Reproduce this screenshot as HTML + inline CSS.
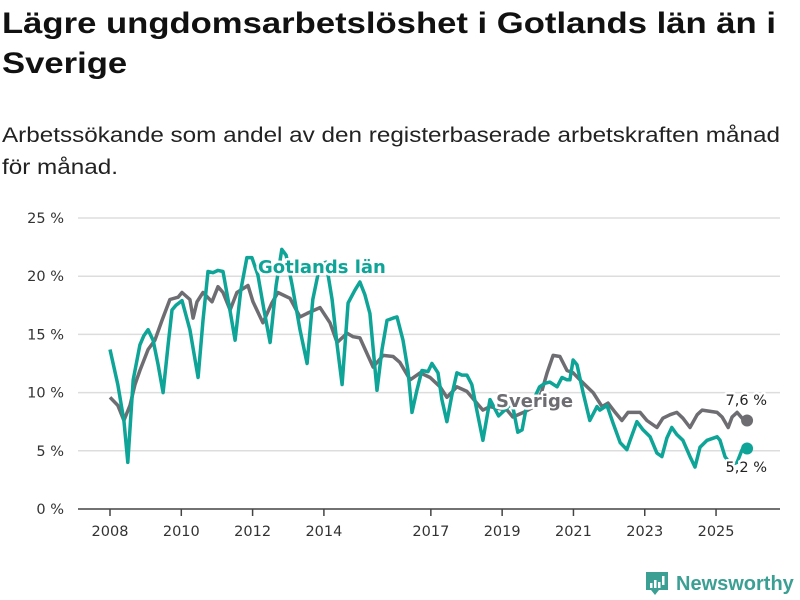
<!DOCTYPE html>
<html><head><meta charset="utf-8">
<style>
body{margin:0;background:#fff;font-family:"Liberation Sans","DejaVu Sans",sans-serif;}
#wrap{position:relative;width:800px;height:600px;overflow:hidden;}
h1{position:absolute;left:2px;top:4px;margin:0;font-size:30px;line-height:40px;font-weight:bold;color:#111;white-space:nowrap;transform-origin:0 0;transform:scaleX(1.155);}
#sub{position:absolute;left:2px;top:120px;margin:0;font-size:21px;line-height:32px;color:#222;white-space:nowrap;transform-origin:0 0;transform:scaleX(1.155);}
</style></head><body>
<div id="wrap">
<h1>Lägre ungdomsarbetslöshet i Gotlands län än i<br>Sverige</h1>
<p id="sub">Arbetssökande som andel av den registerbaserade arbetskraften månad<br>för månad.</p>
<svg id="chart" width="800" height="600" style="position:absolute;left:0;top:0"></svg>
</div>
<script>
const yTicks=[0,5,10,15,20,25];
const yTickLabels=["0 %","5 %","10 %","15 %","20 %","25 %"];
const xTicks=[2008,2010,2012,2014,2017,2019,2021,2023,2025];
const gotYears=[2008.00,2008.22,2008.39,2008.50,2008.65,2008.84,2008.95,2009.07,2009.21,2009.35,2009.49,2009.63,2009.74,2009.85,2010.02,2010.24,2010.47,2010.61,2010.75,2010.89,2011.03,2011.17,2011.34,2011.51,2011.67,2011.84,2011.98,2012.15,2012.32,2012.49,2012.66,2012.82,2012.94,2013.11,2013.33,2013.53,2013.69,2013.89,2014.06,2014.23,2014.37,2014.51,2014.68,2014.87,2015.01,2015.15,2015.29,2015.49,2015.63,2015.77,2015.94,2016.05,2016.22,2016.36,2016.47,2016.61,2016.75,2016.92,2017.03,2017.20,2017.31,2017.45,2017.59,2017.73,2017.87,2018.01,2018.15,2018.29,2018.46,2018.66,2018.90,2019.28,2019.44,2019.56,2019.70,2019.90,2020.05,2020.20,2020.34,2020.54,2020.68,2020.82,2020.90,2020.99,2021.10,2021.27,2021.46,2021.66,2021.74,2021.94,2022.11,2022.31,2022.50,2022.59,2022.78,2022.95,2023.15,2023.34,2023.48,2023.62,2023.76,2023.90,2024.07,2024.27,2024.41,2024.55,2024.75,2025.03,2025.11,2025.25,2025.42,2025.59,2025.73,2025.87];
const gotValues=[13.7,10.7,7.6,4.0,11.1,14.1,14.9,15.4,14.5,12.4,10.0,14.1,17.1,17.5,17.9,15.4,11.3,16.2,20.4,20.3,20.5,20.4,17.5,14.5,18.8,21.6,21.6,20.1,17.1,14.3,19.2,22.3,21.8,19.2,15.4,12.5,18.0,21.0,21.2,18.0,14.1,10.7,17.7,18.8,19.5,18.4,16.8,10.2,13.7,16.2,16.4,16.5,14.5,11.9,8.3,10.2,11.9,11.8,12.5,11.7,9.4,7.5,9.8,11.7,11.5,11.5,10.7,8.5,5.9,9.4,8.0,9.1,6.6,6.8,9.1,9.5,10.5,10.8,10.9,10.5,11.3,11.1,11.1,12.8,12.4,10.0,7.6,8.8,8.5,8.9,7.4,5.7,5.1,5.9,7.5,6.8,6.2,4.8,4.5,6.1,7.0,6.4,5.9,4.5,3.6,5.3,5.9,6.2,5.9,4.5,3.8,4.0,5.1,5.2];
const sveYears=[2008.00,2008.22,2008.39,2008.56,2008.70,2008.84,2009.07,2009.26,2009.46,2009.68,2009.91,2010.02,2010.24,2010.33,2010.44,2010.61,2010.86,2011.03,2011.17,2011.37,2011.56,2011.87,2012.01,2012.29,2012.54,2012.71,2013.05,2013.33,2013.53,2013.89,2014.17,2014.37,2014.65,2014.82,2015.01,2015.38,2015.66,2015.94,2016.13,2016.42,2016.70,2016.98,2017.26,2017.45,2017.73,2018.01,2018.29,2018.46,2018.66,2019.14,2019.30,2019.60,2019.90,2020.10,2020.26,2020.43,2020.62,2020.82,2020.99,2021.18,2021.38,2021.55,2021.80,2021.97,2022.17,2022.36,2022.53,2022.87,2023.06,2023.34,2023.51,2023.71,2023.90,2024.07,2024.27,2024.47,2024.61,2025.03,2025.17,2025.34,2025.45,2025.59,2025.73,2025.87];
const sveValues=[9.6,8.9,7.6,8.9,10.7,11.9,13.7,14.5,16.2,18.0,18.2,18.6,18.0,16.4,17.8,18.6,17.8,19.1,18.6,17.1,18.6,19.2,17.8,16.0,17.7,18.6,18.1,16.5,16.8,17.3,16.0,14.3,15.1,14.8,14.7,12.2,13.2,13.1,12.6,11.1,11.7,11.3,10.5,9.6,10.5,10.1,9.1,8.5,8.8,8.5,7.9,8.3,8.8,10.0,11.7,13.2,13.1,11.9,11.7,11.1,10.5,10.0,8.8,9.1,8.3,7.6,8.3,8.3,7.6,7.0,7.8,8.1,8.3,7.8,7.0,8.1,8.5,8.3,7.9,7.0,7.9,8.3,7.8,7.6];

const NS='http://www.w3.org/2000/svg';
const svg=document.getElementById('chart');
const X0=78,X1=780,Y0=509,Y25=218;
const LF='"DejaVu Sans","Liberation Sans",sans-serif';
function xs(yr){return 110+(yr-2008)*35.65;}
function ys(v){return Y0-(v/25)*(Y0-Y25);}
function mk(tag,attrs,parent){const e=document.createElementNS(NS,tag);for(const k in attrs)e.setAttribute(k,attrs[k]);(parent||svg).appendChild(e);return e;}

yTicks.forEach((t,i)=>{
  if(t>0){const g=mk('line',{x1:X0,x2:X1,y1:ys(t),y2:ys(t),stroke:'#ddd','stroke-width':1.5});
  
  }
  const l=mk('text',{x:64,y:ys(t)+5,'text-anchor':'end','font-size':14.5,fill:'#333','font-family':LF});
  l.textContent=yTickLabels[i];
  
  
});
const ax=mk('line',{x1:X0,x2:X1,y1:Y0,y2:Y0,stroke:'#444','stroke-width':1.5});


xTicks.forEach(t=>{
  const tk=mk('line',{x1:xs(t),x2:xs(t),y1:Y0,y2:Y0+7,stroke:'#444','stroke-width':1.5});
  
  
  const l=mk('text',{x:xs(t),y:Y0+27,'text-anchor':'middle','font-size':14.5,fill:'#333','font-family':LF});
  l.textContent=t;
  
  
});
function pathOf(yrs,vals){return yrs.map((y,i)=>(i?'L':'M')+xs(y).toFixed(1)+','+ys(vals[i]).toFixed(1)).join('');}
const sl=mk('path',{d:pathOf(sveYears,sveValues),fill:'none',stroke:'#6e6d72','stroke-width':3.5,'stroke-linejoin':'round'});


const gl=mk('path',{d:pathOf(gotYears,gotValues),fill:'none',stroke:'#0ea497','stroke-width':3.5,'stroke-linejoin':'round'});


const sd=mk('circle',{cx:xs(sveYears[sveYears.length-1]),cy:ys(sveValues[sveValues.length-1]),r:6,fill:'#6e6d72'});


const gd=mk('circle',{cx:xs(gotYears[gotYears.length-1]),cy:ys(gotValues[gotValues.length-1]),r:6,fill:'#0ea497'});


function label(txt,x,y,size,fill,weight,name,anchor){
  const t=mk('text',{x:x,y:y,'font-size':size,fill:fill,'font-weight':weight,'font-family':LF,stroke:'#fff','stroke-width':5,'paint-order':'stroke','stroke-linejoin':'round','text-anchor':anchor||'start'});
  t.textContent=txt;
  
  
}
label('Gotlands län',258,273,18,'#0ea497','bold','gotland-series-label');
label('Sverige',496,407,18,'#6e6d72','bold','sverige-series-label');
label('7,6 %',767,405,14.5,'#222','normal','sverige-end-value','end');
label('5,2 %',767,472,14.5,'#222','normal','gotland-end-value','end');
// logo
const lg=mk('g',{});


mk('path',{d:'M646,572h22v18h-9l-4,5l-4,-5h-5z',fill:'#3c9f94'},lg);
mk('rect',{x:650,y:583,width:2.5,height:5,fill:'#fff'},lg);
mk('rect',{x:654,y:580,width:2.5,height:8,fill:'#fff'},lg);
mk('rect',{x:658,y:582,width:2.5,height:6,fill:'#fff'},lg);
mk('rect',{x:662,y:576,width:2.5,height:9,fill:'#fff'},lg);
const lt=mk('text',{x:676,y:590,'font-size':20,'font-weight':'bold',fill:'#3c9f94'},lg);
lt.textContent='Newsworthy';


</script>
</body></html>
